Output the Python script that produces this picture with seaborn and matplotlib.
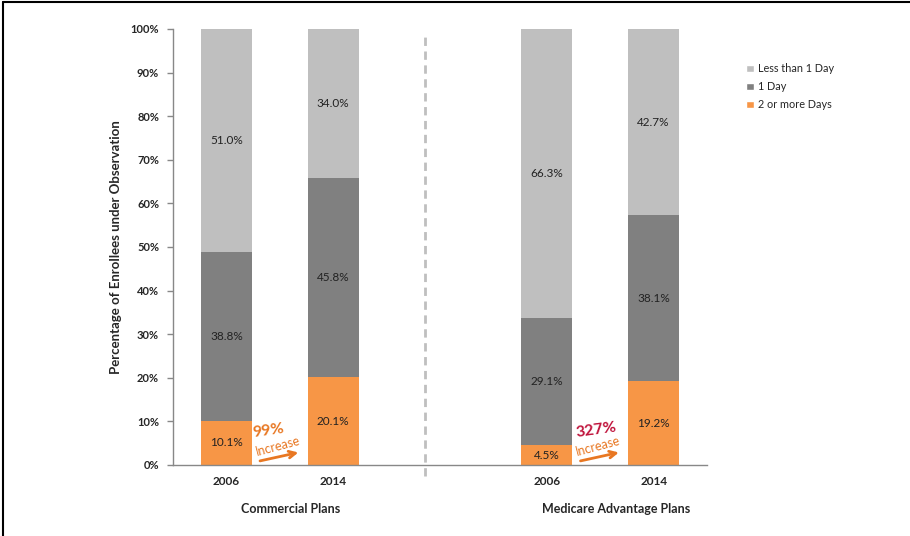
import matplotlib
matplotlib.use("Agg")
import matplotlib.pyplot as plt
import seaborn as sns
import pandas as pd
from matplotlib.lines import Line2D
from matplotlib.patches import Patch

sns.set_theme(style="white")
plt.rcParams['font.family'] = ['Lato', 'DejaVu Sans']

slots = ["C2006", "C2014", "gap", "M2006", "M2014"]
bar_keys = ["C2006", "C2014", "M2006", "M2014"]
tick_labels = ["2006", "2014", "", "2006", "2014"]
two_plus = [10.1, 20.1, 4.5, 19.2]
one_day = [38.8, 45.8, 29.1, 38.1]
less_one = [51.0, 34.0, 66.3, 42.7]
series_names = ["Less than 1 Day", "1 Day", "2 or more Days"]
colors = {"Less than 1 Day": "#BFBFBF", "1 Day": "#808080", "2 or more Days": "#F79646"}
groups = ["Commercial Plans", "Medicare Advantage Plans"]
increases = ["99%", "327%"]

df = pd.DataFrame({"slot": bar_keys, "two": two_plus, "one": one_day, "less": less_one})
df["cum1"] = df["two"] + df["one"]
df["cum2"] = 100.0

fig = plt.figure(figsize=(9.10, 5.36), dpi=100)
ax = fig.add_axes([0.190, 0.1325, 0.587, 0.8134])

common = dict(data=df, x="slot", order=slots, width=0.48, ax=ax, errorbar=None, saturation=1, linewidth=0)
sns.barplot(y="cum2", color=colors["Less than 1 Day"], **common)
sns.barplot(y="cum1", color=colors["1 Day"], **common)
sns.barplot(y="two", color=colors["2 or more Days"], **common)

pos = {s: i for i, s in enumerate(slots)}
for _, r in df.iterrows():
    x = pos[r["slot"]]
    kw = dict(ha="center", va="center", fontsize=8.5, color="#222222")
    ax.text(x, r["two"] / 2, f"{r['two']:.1f}%", **kw)
    ax.text(x, r["two"] + r["one"] / 2, f"{r['one']:.1f}%", **kw)
    ax.text(x, r["cum1"] + r["less"] / 2, f"{r['less']:.1f}%", **kw)

ax.set_xlim(-0.5, 4.5)
ax.set_ylim(0, 100)
ax.set_yticks(range(0, 101, 10))
ax.set_yticklabels([f"{v}%" for v in range(0, 101, 10)], fontsize=8, fontweight="bold")
ax.set_xticks(range(len(slots)))
ax.set_xticklabels(tick_labels, fontsize=8.5, fontweight="bold")
ax.tick_params(axis="y", which="both", left=True, length=4, width=1, color="#888888", pad=6)
ax.tick_params(axis="x", length=0, pad=8)
ax.set_xlabel("")
ax.set_ylabel("Percentage of Enrollees under Observation", fontsize=9.5, fontweight="bold", labelpad=6)
for s in ["top", "right"]:
    ax.spines[s].set_visible(False)
for s in ["left", "bottom"]:
    ax.spines[s].set_color("#888888")
    ax.spines[s].set_linewidth(1)

# dashed divider
ax.plot([1.86, 1.86], [-2.5, 98.5], ls=(0, (3, 2)), color="#BFBFBF", lw=2, clip_on=False)

# group labels
ax.text(0.6, -10, groups[0], ha="center", va="center", fontsize=9, fontweight="bold", clip_on=False)
ax.text(3.65, -10, groups[1], ha="center", va="center", fontsize=9, fontweight="bold", clip_on=False)

# increase annotations
for x0, txt, col, dx in [(0, increases[0], "#E87722", 0.39), (3, increases[1], "#C0143C", 0.46)]:
    ax.text(x0 + dx, 7.9, txt, ha="center", va="center", fontsize=11.5, fontweight="bold", color=col, rotation=8)
    ax.text(x0 + 0.48, 4.2, "Increase", ha="center", va="center", fontsize=9, color="#E87722", rotation=15)
    ax.annotate("", xy=(x0 + 0.7, 3.0), xytext=(x0 + 0.29, 0.8),
                arrowprops=dict(arrowstyle="->", color="#E87722", lw=2, mutation_scale=12))

handles = [Patch(facecolor=colors[n], label=n) for n in series_names]
leg = fig.legend(handles=handles, loc="upper left", bbox_to_anchor=(0.809, 0.9), frameon=False,
                 fontsize=7.8, handlelength=0.7, handleheight=0.7, handletextpad=0.4, labelspacing=0.65)

# frame lines
fig.add_artist(Line2D([0.0035, 0.0035], [0, 0.996], transform=fig.transFigure, color="black", lw=1.5))
fig.add_artist(Line2D([0.0035, 1.0], [0.996, 0.996], transform=fig.transFigure, color="black", lw=1.5))

fig.savefig("out.png", dpi=100)
